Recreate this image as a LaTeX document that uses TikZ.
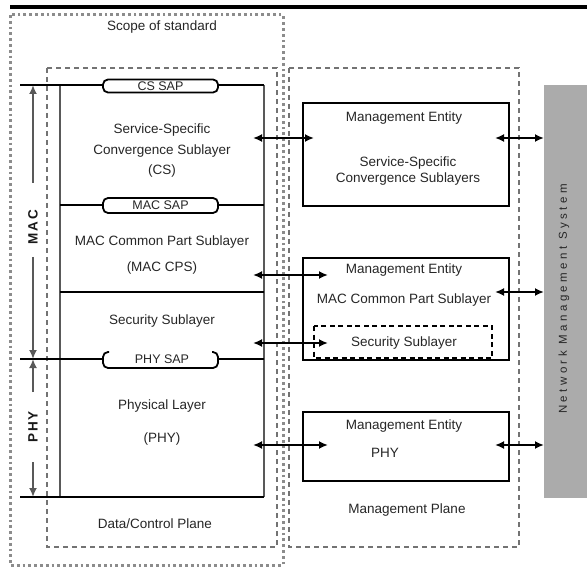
\documentclass[tikz,border=0pt]{standalone}
\usepackage{fontspec}
\setmainfont{Liberation Sans}
\newfontfamily\spacedfont[LetterSpace=30]{Liberation Sans}
\newfontfamily\sidefont[LetterSpace=14]{Liberation Sans}
\usetikzlibrary{arrows.meta}
\begin{document}
\begin{tikzpicture}[x=1pt,y=-1pt,
  lbl/.style={text=black!85, font=\fontsize{13.5}{16}\selectfont, inner sep=0pt, align=center},
  saplbl/.style={text=black!85, font=\fontsize{12.5}{15}\selectfont, inner sep=0pt},
  sidelbl/.style={text=black!90, font=\sidefont\bfseries\fontsize{13.5}{15}\selectfont, inner sep=0pt, rotate=90},
  dotbox/.style={draw=black!45, line width=3pt, dash pattern=on 2.8pt off 3pt},
  dashbox/.style={draw=black!55, line width=1.5pt, dash pattern=on 5pt off 4pt},
  layer/.style={draw=black, line width=2pt},
  sideline/.style={draw=black!65, line width=2.6pt},
  sap/.style={draw=black, line width=1.8pt, rounded corners=5pt},
  mgmt/.style={draw=black, line width=2.2pt, inner sep=0pt, anchor=north west},
  tip/.style={-{Latex[length=9pt,width=8pt]}},
  conn/.style={line width=1.8pt, {Latex[length=9pt,width=8pt]}-{Latex[length=9pt,width=8pt]}}]

\useasboundingbox (0,0) rectangle (587,567);

% top rule
\draw[line width=3.2pt] (10,7) -- (587,7);

% scope of standard (dotted), planes (dashed)
\draw[dotbox] (10,15) rectangle (283,565);
\draw[dashbox] (47,68) rectangle (277,547);
\draw[dashbox] (289,68) rectangle (519,547);
\node[lbl] (scope) at (162,27) {Scope of standard};

% data/control plane layer stack
\draw[sideline] (60,85) -- (60,497);
\draw[sideline] (264,85) -- (264,497);
\draw[layer, line width=1.8pt] (20,85) -- (264,85);
\draw[layer, line width=1.8pt] (60,205) -- (264,205);
\draw[layer, line width=2.8pt] (60,292) -- (264,292);
\draw[layer, line width=2.5pt] (20,359) -- (264,359);
\draw[layer, line width=1.8pt] (20,497) -- (264,497);

% SAPs
\node[sap, fill=white, minimum width=115pt, minimum height=13pt, inner sep=0pt] (cssap) at (160.5,86) {};
\node[saplbl] at (cssap) {CS SAP};
\node[sap, fill=white, minimum width=115pt, minimum height=15pt, inner sep=0pt] (macsap) at (160.5,205.5) {};
\node[saplbl] at (macsap) {MAC SAP};
\fill[white] (103,353) rectangle (218,368);
\draw[sap] (109,352) -- (103,352) -- (103,368) -- (218,368) -- (218,352) -- (212,352);
\node[saplbl] (physap) at (162,359) {PHY SAP};

% layer labels
\node[lbl, font=\fontsize{13.5}{20.5}\selectfont] (cs) at (162,151) {Service-Specific\\Convergence Sublayer\\(CS)};
\node[lbl, font=\fontsize{13.5}{26}\selectfont] (cps) at (162,255) {MAC Common Part Sublayer\\(MAC CPS)};
\node[lbl] (sec) at (162,321) {Security Sublayer};
\node[lbl, font=\fontsize{13.5}{33}\selectfont] (phy) at (162,422.5) {Physical Layer\\(PHY)};
\node[lbl] (dcp) at (155,524) {Data/Control Plane};

% MAC / PHY extent arrows
\node[sidelbl] (maclbl) at (33,227) {MAC};
\node[sidelbl] (phylbl) at (33,427) {PHY};
\coordinate (macT) at (33,85);
\coordinate (macA) at (33,183);
\coordinate (macB) at (33,257);
\coordinate (sapM) at (33,359);
\coordinate (phyA) at (33,392);
\coordinate (phyB) at (33,462);
\coordinate (phyE) at (33,497);
\draw[sideline, tip] (macA) -- (macT);
\draw[sideline, tip] (macB) -- (sapM);
\draw[sideline, tip] (phyA) -- (sapM);
\draw[sideline, tip] (phyB) -- (phyE);

% management plane
\node[mgmt, minimum width=206pt, minimum height=103pt] (me1) at (302,102) {};
\node[mgmt, minimum width=206pt, minimum height=102pt] (me2) at (302,257) {};
\node[mgmt, minimum width=206pt, minimum height=69pt] (me3) at (302,411) {};
\draw[draw=black, line width=1.6pt, dash pattern=on 5pt off 3.5pt] (314,326) rectangle (492,358);

\node[lbl] (me1a) at (404,118) {Management Entity};
\node[lbl, font=\fontsize{13.5}{16}\selectfont] (me1b) at (408,171) {Service-Specific\\Convergence Sublayers};
\node[lbl] (me2a) at (404,270) {Management Entity};
\node[lbl] (me2b) at (404,300) {MAC Common Part Sublayer};
\node[lbl] (me2c) at (404,343) {Security Sublayer};
\node[lbl] (me3a) at (404,426) {Management Entity};
\node[lbl] (me3b) at (385,453) {PHY};
\node[lbl] (mp) at (407,510) {Management Plane};

% network management system
\node[fill=black!33, minimum width=43pt, minimum height=413pt, inner sep=0pt, anchor=north west] (nms) at (544,85) {};
\node[rotate=90, inner sep=0pt, text=black!85, font=\spacedfont\fontsize{11.5}{14}\selectfont] (nmslbl) at (564,299) {Network Management System};

% connectors data plane <-> management entities
\coordinate (a1L) at (253,138); \coordinate (a1R) at (314,138);
\coordinate (a2L) at (253,275); \coordinate (a2R) at (328,275);
\coordinate (a3L) at (253,343); \coordinate (a3R) at (328,343);
\coordinate (a4L) at (253,445); \coordinate (a4R) at (328,445);
\draw[conn] (a1L) -- (a1R);
\draw[conn] (a2L) -- (a2R);
\draw[conn] (a3L) -- (a3R);
\draw[conn] (a4L) -- (a4R);

% connectors management entities <-> NMS
\coordinate (b1L) at (495,138); \coordinate (b1R) at (544,138);
\coordinate (b2L) at (495,292); \coordinate (b2R) at (544,292);
\coordinate (b3L) at (495,445); \coordinate (b3R) at (544,445);
\draw[conn] (b1L) -- (b1R);
\draw[conn] (b2L) -- (b2R);
\draw[conn] (b3L) -- (b3R);
\end{tikzpicture}
\end{document}
